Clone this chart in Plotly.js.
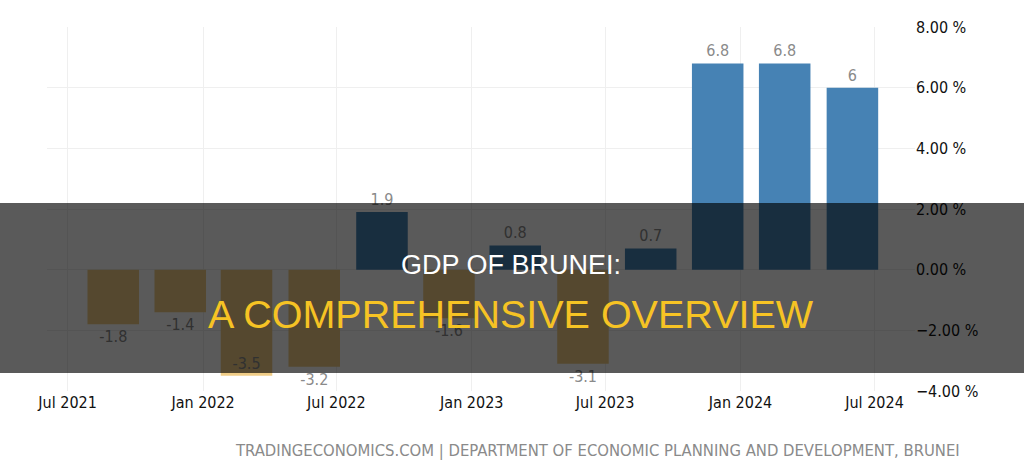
<!DOCTYPE html>
<html>
<head>
<meta charset="utf-8">
<script src="https://cdn.plot.ly/plotly-3.0.1.min.js"></script>
<style>
  html, body { margin: 0; padding: 0; background: #ffffff; }
  #chart { width: 1024px; height: 476px; }
</style>
</head>
<body>
<div id="chart"></div>
<script>
// Brunei GDP growth rate, quarterly (%)
const quarterDates = [
    '2021-09-01', '2021-12-01', '2022-03-01', '2022-06-01',
    '2022-09-01', '2022-12-01', '2023-03-01', '2023-06-01',
    '2023-09-01', '2023-12-01', '2024-03-01', '2024-06-01'
];
const growthValues = [-1.8, -1.4, -3.5, -3.2, 1.9, -1.6, 0.8, -3.1, 0.7, 6.8, 6.8, 6];
const growthLabels = ['-1.8', '-1.4', '-3.5', '-3.2', '1.9', '-1.6', '0.8', '-3.1', '0.7', '6.8', '6.8', '6'];

const tickFont = 'DejaVu Sans Condensed, DejaVu Sans, sans-serif';
const POS_COLOR = '#4682b4';
const NEG_COLOR = '#f0cd87';
const DAY_MS = 24 * 60 * 60 * 1000;

const barColors = growthValues.map(v => (v >= 0 ? POS_COLOR : NEG_COLOR));
// the deepest bar keeps its label inside, near the bottom end
const labelPositions = growthValues.map(v => (v <= -3.5 ? 'inside' : 'outside'));

const traces = [{
    x: quarterDates,
    y: growthValues,
    type: 'bar',
    width: quarterDates.map(() => 70 * DAY_MS),
    marker: { color: barColors, line: { width: 0 } },
    text: growthLabels,
    texttemplate: '%{text}',
    textposition: labelPositions,
    insidetextanchor: 'end',
    cliponaxis: false,
    textfont: { family: tickFont, size: 16, color: '#8a8a8a' },
    insidetextfont: { family: tickFont, size: 16, color: '#8a8a8a' },
    hoverinfo: 'skip'
}];

const layout = {
    width: 1024,
    height: 476,
    paper_bgcolor: '#ffffff',
    plot_bgcolor: '#ffffff',
    showlegend: false,
    margin: { l: 47, r: 109, t: 27, b: 85 },
    xaxis: {
        type: 'date',
        range: ['2021-06-03', '2024-08-25'],
        tick0: '2021-07-01',
        dtick: 'M6',
        tickformat: '%b %Y',
        showgrid: true,
        gridcolor: '#efefef',
        zeroline: false,
        showline: false,
        ticks: '',
        tickfont: { family: tickFont, size: 16, color: '#111111' },
        fixedrange: true
    },
    yaxis: {
        range: [-4, 8],
        dtick: 2,
        side: 'right',
        tickformat: '.2f',
        ticksuffix: ' %',
        showgrid: true,
        gridcolor: '#efefef',
        zeroline: false,
        showline: false,
        ticks: '',
        tickfont: { family: tickFont, size: 16, color: '#111111' },
        fixedrange: true
    },
    shapes: [{
        // dark banner across the middle
        type: 'rect',
        xref: 'paper',
        yref: 'paper',
        x0: -0.06,
        x1: 1.13,
        y0: (391 - 373) / 364,
        y1: (391 - 203) / 364,
        fillcolor: 'rgba(0, 0, 0, 0.647)',
        line: { width: 0 },
        layer: 'above'
    }],
    annotations: [
        {
            text: 'GDP OF BRUNEI:',
            xref: 'paper', yref: 'paper',
            x: (511 - 47) / 868, y: (391 - 265) / 364,
            xanchor: 'center', yanchor: 'middle',
            showarrow: false,
            font: { family: 'Liberation Sans, Arial, sans-serif', size: 27, color: '#ffffff' }
        },
        {
            text: 'A COMPREHENSIVE OVERVIEW',
            xref: 'paper', yref: 'paper',
            x: (511 - 47) / 868, y: (391 - 314) / 364,
            xanchor: 'center', yanchor: 'middle',
            showarrow: false,
            font: { family: 'Liberation Sans, Arial, sans-serif', size: 39.5, color: '#f6c324' }
        },
        {
            text: 'TRADINGECONOMICS.COM | DEPARTMENT OF ECONOMIC PLANNING AND DEVELOPMENT, BRUNEI',
            xref: 'paper', yref: 'paper',
            x: (962 - 47) / 868, y: (391 - 450) / 364,
            xanchor: 'right', yanchor: 'middle',
            showarrow: false,
            font: { family: tickFont, size: 16.5, color: '#8a8a8a' }
        }
    ]
};

const config = { staticPlot: true, displayModeBar: false };

Plotly.newPlot('chart', traces, layout, config);
</script>
</body>
</html>
